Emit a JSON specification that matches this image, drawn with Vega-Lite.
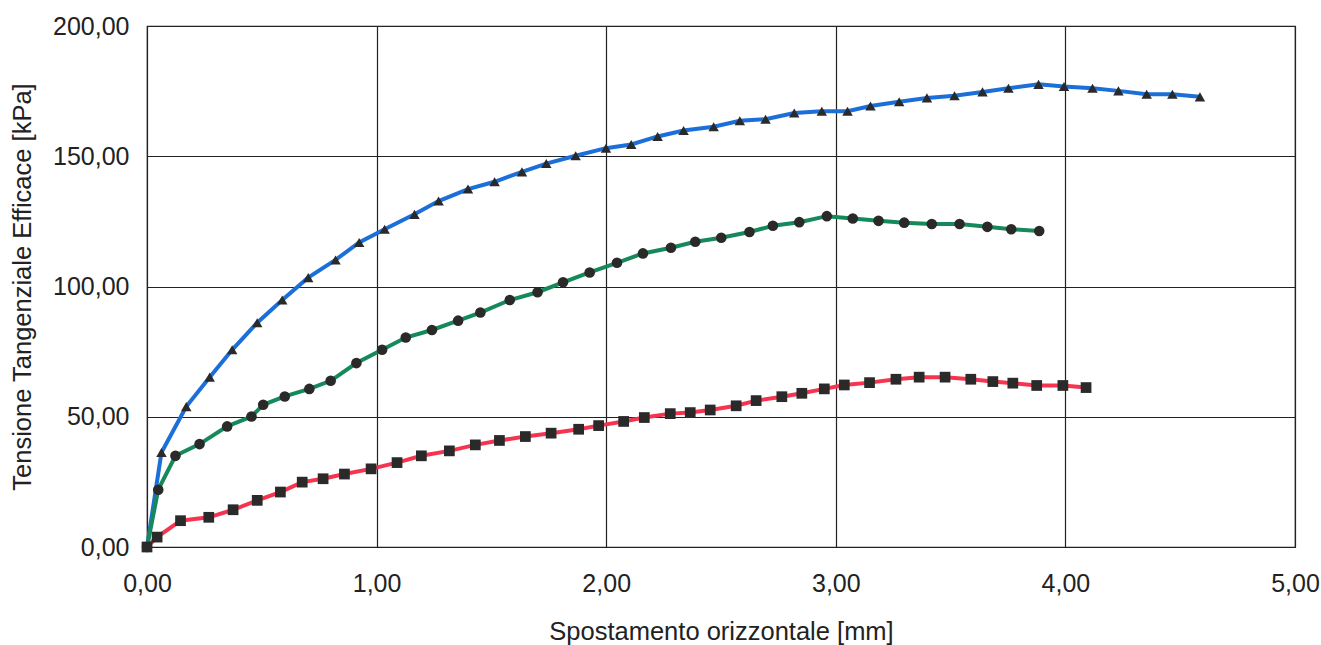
{
  "$schema": "https://vega.github.io/schema/vega-lite/v6.json",
  "autosize": {"type": "none"},
  "width": 1148,
  "height": 521,
  "padding": {"left": 147, "top": 26, "right": 26, "bottom": 98},
  "background": "white",
  "config": {
    "font": "Liberation Sans",
    "view": {"stroke": "#222", "strokeWidth": 1.2},
    "axis": {
      "domain": false,
      "ticks": false,
      "grid": true,
      "gridColor": "#222",
      "gridWidth": 1.2,
      "gridOpacity": 1,
      "labelFlush": false,
      "labelFont": "Liberation Sans",
      "labelFontSize": 25,
      "labelColor": "#222",
      "titleFont": "Liberation Sans",
      "titleFontSize": 25.5,
      "titleFontWeight": "normal",
      "titleColor": "#222"
    }
  },
  "data": {
    "values": [
      {"s": "A", "x": 0, "y": 0},
      {"s": "A", "x": 0.063, "y": 36.3},
      {"s": "A", "x": 0.171, "y": 53.9},
      {"s": "A", "x": 0.273, "y": 65.2},
      {"s": "A", "x": 0.371, "y": 75.7},
      {"s": "A", "x": 0.48, "y": 86.1},
      {"s": "A", "x": 0.589, "y": 94.8},
      {"s": "A", "x": 0.702, "y": 103.4},
      {"s": "A", "x": 0.821, "y": 110.2},
      {"s": "A", "x": 0.924, "y": 116.9},
      {"s": "A", "x": 1.035, "y": 122.0},
      {"s": "A", "x": 1.165, "y": 127.7},
      {"s": "A", "x": 1.27, "y": 132.8},
      {"s": "A", "x": 1.398, "y": 137.4},
      {"s": "A", "x": 1.514, "y": 140.2},
      {"s": "A", "x": 1.633, "y": 144.0},
      {"s": "A", "x": 1.739, "y": 147.2},
      {"s": "A", "x": 1.867, "y": 150.2},
      {"s": "A", "x": 1.999, "y": 153.1},
      {"s": "A", "x": 2.109, "y": 154.5},
      {"s": "A", "x": 2.224, "y": 157.6},
      {"s": "A", "x": 2.337, "y": 159.9},
      {"s": "A", "x": 2.468, "y": 161.3},
      {"s": "A", "x": 2.582, "y": 163.6},
      {"s": "A", "x": 2.694, "y": 164.2},
      {"s": "A", "x": 2.819, "y": 166.6},
      {"s": "A", "x": 2.939, "y": 167.3},
      {"s": "A", "x": 3.051, "y": 167.3},
      {"s": "A", "x": 3.151, "y": 169.3},
      {"s": "A", "x": 3.276, "y": 170.9},
      {"s": "A", "x": 3.397, "y": 172.4},
      {"s": "A", "x": 3.517, "y": 173.2},
      {"s": "A", "x": 3.639, "y": 174.7},
      {"s": "A", "x": 3.752, "y": 176.1},
      {"s": "A", "x": 3.883, "y": 177.6},
      {"s": "A", "x": 3.994, "y": 176.8},
      {"s": "A", "x": 4.118, "y": 176.1},
      {"s": "A", "x": 4.231, "y": 175.1},
      {"s": "A", "x": 4.354, "y": 173.8},
      {"s": "A", "x": 4.466, "y": 173.8},
      {"s": "A", "x": 4.586, "y": 172.8},
      {"s": "B", "x": 0, "y": 0},
      {"s": "B", "x": 0.049, "y": 22.0},
      {"s": "B", "x": 0.124, "y": 35.0},
      {"s": "B", "x": 0.229, "y": 39.5},
      {"s": "B", "x": 0.349, "y": 46.3},
      {"s": "B", "x": 0.455, "y": 50.1},
      {"s": "B", "x": 0.506, "y": 54.6},
      {"s": "B", "x": 0.6, "y": 57.8},
      {"s": "B", "x": 0.707, "y": 60.7},
      {"s": "B", "x": 0.8, "y": 63.8},
      {"s": "B", "x": 0.912, "y": 70.6},
      {"s": "B", "x": 1.024, "y": 75.7},
      {"s": "B", "x": 1.127, "y": 80.4},
      {"s": "B", "x": 1.241, "y": 83.3},
      {"s": "B", "x": 1.355, "y": 86.9},
      {"s": "B", "x": 1.452, "y": 90.0},
      {"s": "B", "x": 1.58, "y": 94.8},
      {"s": "B", "x": 1.701, "y": 97.8},
      {"s": "B", "x": 1.812, "y": 101.6},
      {"s": "B", "x": 1.928, "y": 105.4},
      {"s": "B", "x": 2.047, "y": 109.1},
      {"s": "B", "x": 2.16, "y": 112.7},
      {"s": "B", "x": 2.282, "y": 114.9},
      {"s": "B", "x": 2.388, "y": 117.2},
      {"s": "B", "x": 2.501, "y": 118.7},
      {"s": "B", "x": 2.624, "y": 120.9},
      {"s": "B", "x": 2.726, "y": 123.3},
      {"s": "B", "x": 2.841, "y": 124.7},
      {"s": "B", "x": 2.961, "y": 127.0},
      {"s": "B", "x": 3.074, "y": 126.1},
      {"s": "B", "x": 3.186, "y": 125.2},
      {"s": "B", "x": 3.298, "y": 124.5},
      {"s": "B", "x": 3.418, "y": 124.0},
      {"s": "B", "x": 3.539, "y": 124.0},
      {"s": "B", "x": 3.66, "y": 122.9},
      {"s": "B", "x": 3.764, "y": 122.0},
      {"s": "B", "x": 3.886, "y": 121.3},
      {"s": "C", "x": 0, "y": 0},
      {"s": "C", "x": 0.044, "y": 3.8},
      {"s": "C", "x": 0.146, "y": 10.1},
      {"s": "C", "x": 0.269, "y": 11.4},
      {"s": "C", "x": 0.375, "y": 14.3},
      {"s": "C", "x": 0.48, "y": 17.9},
      {"s": "C", "x": 0.581, "y": 21.1},
      {"s": "C", "x": 0.676, "y": 24.9},
      {"s": "C", "x": 0.767, "y": 26.2},
      {"s": "C", "x": 0.86, "y": 28.0},
      {"s": "C", "x": 0.976, "y": 30.0},
      {"s": "C", "x": 1.089, "y": 32.4},
      {"s": "C", "x": 1.195, "y": 35.0},
      {"s": "C", "x": 1.317, "y": 36.9},
      {"s": "C", "x": 1.43, "y": 39.2},
      {"s": "C", "x": 1.535, "y": 40.9},
      {"s": "C", "x": 1.648, "y": 42.4},
      {"s": "C", "x": 1.76, "y": 43.7},
      {"s": "C", "x": 1.88, "y": 45.2},
      {"s": "C", "x": 1.967, "y": 46.6},
      {"s": "C", "x": 2.076, "y": 48.2},
      {"s": "C", "x": 2.166, "y": 49.7},
      {"s": "C", "x": 2.279, "y": 51.2},
      {"s": "C", "x": 2.366, "y": 51.6},
      {"s": "C", "x": 2.453, "y": 52.6},
      {"s": "C", "x": 2.566, "y": 54.2},
      {"s": "C", "x": 2.653, "y": 56.2},
      {"s": "C", "x": 2.765, "y": 57.7},
      {"s": "C", "x": 2.852, "y": 59.0},
      {"s": "C", "x": 2.95, "y": 60.7},
      {"s": "C", "x": 3.037, "y": 62.2},
      {"s": "C", "x": 3.147, "y": 63.1},
      {"s": "C", "x": 3.262, "y": 64.4},
      {"s": "C", "x": 3.363, "y": 65.2},
      {"s": "C", "x": 3.476, "y": 65.2},
      {"s": "C", "x": 3.588, "y": 64.4},
      {"s": "C", "x": 3.684, "y": 63.5},
      {"s": "C", "x": 3.771, "y": 62.9},
      {"s": "C", "x": 3.875, "y": 62.0},
      {"s": "C", "x": 3.989, "y": 62.0},
      {"s": "C", "x": 4.09, "y": 61.2}
    ]
  },
  "encoding": {
    "x": {
      "field": "x",
      "type": "quantitative",
      "scale": {"domain": [0, 5], "nice": false, "zero": true},
      "axis": {
        "values": [0, 1, 2, 3, 4, 5],
        "labelExpr": "replace(format(datum.value, '.2f'), '.', ',')",
        "labelPadding": 24,
        "title": "Spostamento orizzontale [mm]",
        "titlePadding": 23
      }
    },
    "y": {
      "field": "y",
      "type": "quantitative",
      "scale": {"domain": [0, 200], "nice": false},
      "axis": {
        "values": [0, 50, 100, 150, 200],
        "labelExpr": "replace(format(datum.value, '.2f'), '.', ',')",
        "labelPadding": 18,
        "title": "Tensione Tangenziale Efficace [kPa]",
        "titlePadding": 17
      }
    }
  },
  "layer": [
    {
      "mark": {"type": "line", "strokeWidth": 4},
      "encoding": {
        "color": {
          "field": "s",
          "type": "nominal",
          "scale": {"domain": ["C", "B", "A"], "range": ["#f7344f", "#15895a", "#1c6fd8"]},
          "legend": null
        }
      }
    },
    {
      "mark": {"type": "point", "filled": true, "opacity": 1, "color": "#2a2a2a", "strokeWidth": 0},
      "encoding": {
        "shape": {
          "field": "s",
          "type": "nominal",
          "scale": {"domain": ["C", "B", "A"], "range": ["square", "circle", "triangle-up"]},
          "legend": null
        },
        "size": {
          "field": "s",
          "type": "nominal",
          "scale": {"domain": ["C", "B", "A"], "range": [115, 110, 165]},
          "legend": null
        }
      }
    }
  ]
}
